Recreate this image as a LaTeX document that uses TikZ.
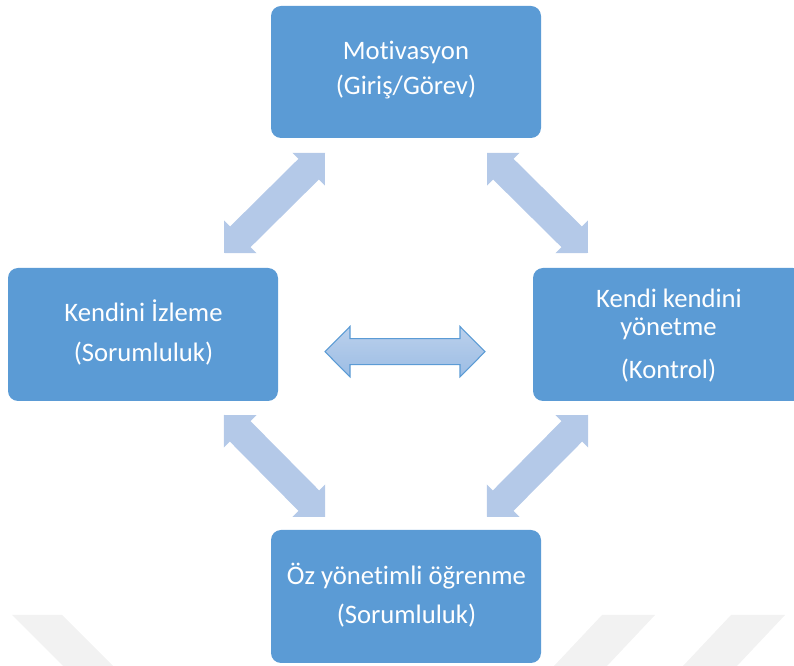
\documentclass[tikz,border=0pt]{standalone}
\usepackage{fontspec}
\setmainfont{Carlito}[Ligatures={NoCommon}]
\usetikzlibrary{calc}
\definecolor{boxblue}{HTML}{5B9BD5}
\definecolor{arrowblue}{HTML}{B4C9E8}
\definecolor{shadetop}{HTML}{BBD0EC}
\definecolor{shadebot}{HTML}{9CBDE4}
\definecolor{wmark}{HTML}{F2F2F2}
\newcommand{\fatarrow}[6]{%
  \coordinate (h1) at ($(#2)!#4!(#3)$);
  \coordinate (h2) at ($(#3)!#4!(#2)$);
  \path[#1] (#2) -- ($(h1)!#5!90:(#3)$) -- ($(h1)!#6!90:(#3)$)
    -- ($(h2)!#6!-90:(#2)$) -- ($(h2)!#5!-90:(#2)$) -- (#3)
    -- ($(h2)!#5!90:(#2)$) -- ($(h2)!#6!90:(#2)$)
    -- ($(h1)!#6!-90:(#3)$) -- ($(h1)!#5!-90:(#3)$) -- cycle;
}
\tikzset{
  box/.style={fill=boxblue, rounded corners=7.5pt, draw=none},
  txt/.style={text=white, font=\fontsize{20}{24}\selectfont, anchor=base, inner sep=0pt},
  diag/.style={fill=arrowblue},
  center/.style={top color=shadetop, bottom color=shadebot, draw=boxblue, line width=0.8pt, line join=miter}
}
\begin{document}
\begin{tikzpicture}[x=0.75pt,y=-0.75pt]
\useasboundingbox (0,0) rectangle (794,666);
\clip (0,0) rectangle (794,666);
% watermark stripes
\fill[wmark] (12,615) -- (62,615) -- (113,666) -- (63,666) -- cycle;
\fill[wmark] (602,615) -- (655,615) -- (607,666) -- (554,666) -- cycle;
\fill[wmark] (731,615) -- (785,615) -- (737,666) -- (683,666) -- cycle;
% boxes
\path[box] (271,6) rectangle (541,138);
\node[inner sep=0pt, minimum width=202.5pt, minimum height=99pt] (top) at (406,72) {};
\path[box] (8,268) rectangle (278,401);
\node[inner sep=0pt, minimum width=202.5pt, minimum height=99.75pt] (left) at (143,334.5) {};
\path[box] (533,268) rectangle (803,401);
\node[inner sep=0pt, minimum width=202.5pt, minimum height=99.75pt] (right) at (668,334.5) {};
\path[box] (271,530) rectangle (541,663);
\node[inner sep=0pt, minimum width=202.5pt, minimum height=99.75pt] (bottom) at (406,596.5) {};
% texts
\node[txt] (t1) at (406,60) {Motivasyon};
\node[txt] (t2) at (406,94.5) {(Giriş/Görev)};
\node[txt] (l1) at (143.5,321.7) {Kendini İzleme};
\node[txt] (l2) at (143.5,361.7) {(Sorumluluk)};
\node[txt] (r1) at (669,307.7) {Kendi kendini};
\node[txt] (r2) at (668.5,336) {yönetme};
\node[txt] (r3) at (668.5,378.3) {(Kontrol)};
\node[txt] (b1) at (406.5,585) {Öz yönetimli öğrenme};
\node[txt] (b2) at (406.5,623.3) {(Sorumluluk)};
% arrow tips
\coordinate (a1) at (325,153);
\coordinate (a2) at (224,253);
\coordinate (b1t) at (487,153);
\coordinate (b2t) at (588,253);
\coordinate (c1) at (224,415);
\coordinate (c2) at (325,517);
\coordinate (d1) at (588,415);
\coordinate (d2) at (487,517);
\coordinate (m1) at (325,351.7);
\coordinate (m2) at (485,351.7);
\fatarrow{diag}{a1}{a2}{17.25pt}{17.25pt}{10.9pt}
\fatarrow{diag}{b1t}{b2t}{17.25pt}{17.25pt}{10.9pt}
\fatarrow{diag}{c1}{c2}{17.25pt}{17.25pt}{10.9pt}
\fatarrow{diag}{d1}{d2}{17.25pt}{17.25pt}{10.9pt}
\fatarrow{center}{m1}{m2}{18.75pt}{18.9pt}{9.75pt}
\end{tikzpicture}
\end{document}
